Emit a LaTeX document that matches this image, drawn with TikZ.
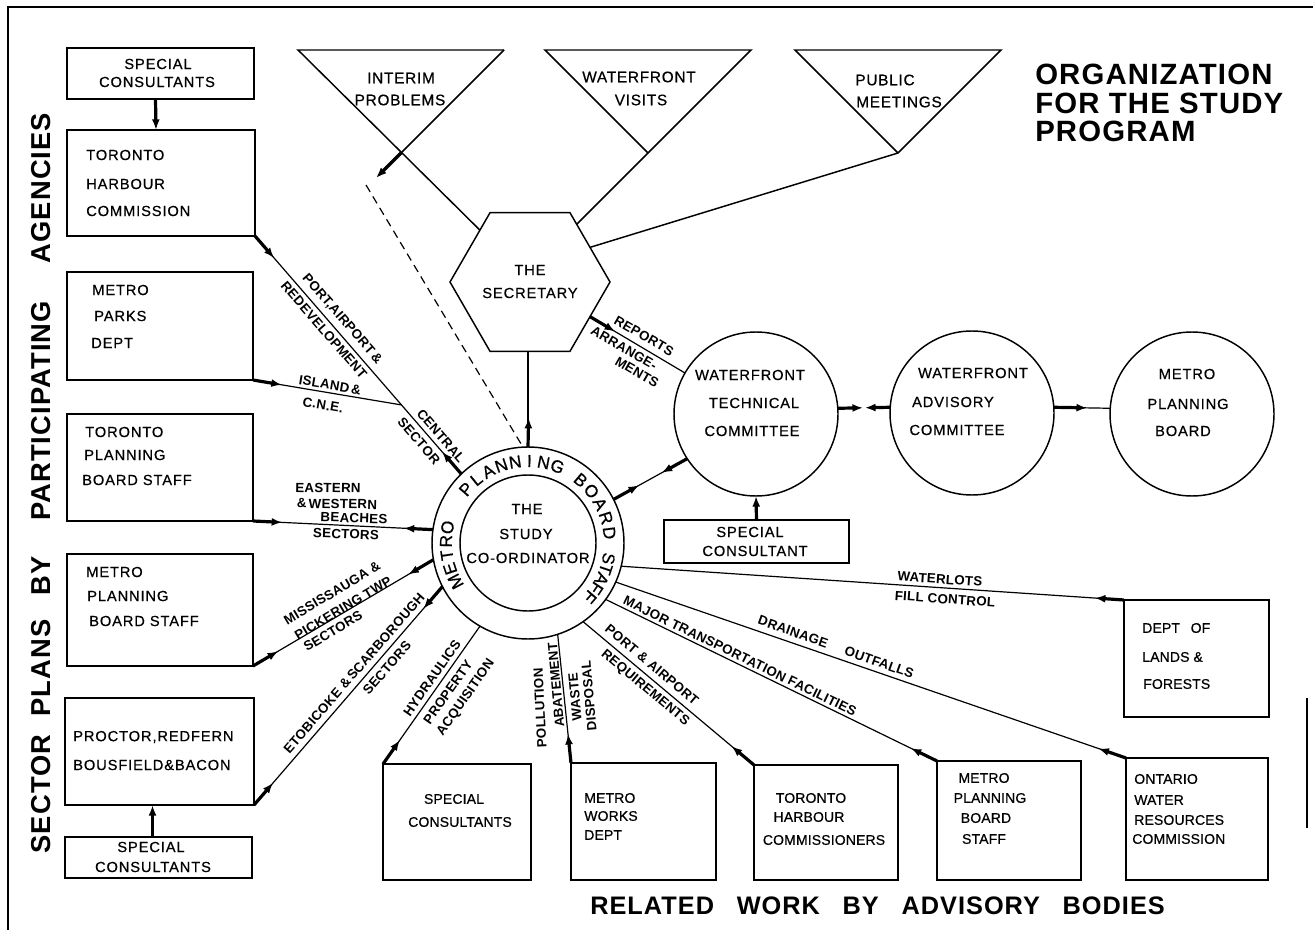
\documentclass[tikz,border=0pt]{standalone}
\usepackage{fontspec}
\setmainfont{Liberation Sans}
\newfontfamily\bxf[LetterSpace=6,FakeBold=0.6]{Liberation Sans}
\newfontfamily\bxt[LetterSpace=5,FakeBold=0.6]{Liberation Sans}
\newfontfamily\bxn[LetterSpace=1,FakeBold=0.6]{Liberation Sans}
\newfontfamily\lbf[LetterSpace=2]{Liberation Sans}
\newfontfamily\hdf[LetterSpace=4]{Liberation Sans}
\usetikzlibrary{arrows.meta,calc,shapes.geometric}
\tikzset{
  box/.style 2 args={draw, line width=1.3pt, inner sep=0pt, outer sep=0pt, anchor=north west,
    minimum width=#1*0.75pt, minimum height=#2*0.75pt},
  circ/.style={draw, circle, line width=1.1pt, inner sep=0pt, outer sep=0pt, minimum size=#1*0.75pt},
  bt/.style={font=\bxf\fontsize{11}{13}\selectfont, inner sep=0pt, anchor=west},
  ct/.style={font=\bxf\fontsize{11}{13}\selectfont, inner sep=0pt},
  tt/.style={font=\bxt\fontsize{11.5}{13}\selectfont, inner sep=0pt},
  nt/.style={font=\bxn\fontsize{10.5}{12}\selectfont, inner sep=0pt},
  ntw/.style={nt, anchor=west},
  rg/.style={font=\bxf\fontsize{13}{15}\selectfont, inner sep=0pt},
  lb/.style={font=\lbf\bfseries\fontsize{10}{12}\selectfont, inner sep=0pt},
  side/.style={font=\hdf\bfseries\fontsize{20.5}{22}\selectfont, inner sep=0pt, rotate=90},
  ttl/.style={font=\hdf\bfseries\fontsize{22}{26}\selectfont, inner sep=0pt, anchor=base west},
  conn/.style={line width=0.9pt},
  stub/.style={line width=2.4pt, -{Latex[length=8pt,width=6pt]}},
  frame/.style={line width=1.5pt},
}
\newcommand\stubto[3][22pt]{\draw[stub] (#2) -- ($(#2)!#1!(#3)$);}
\begin{document}
\begin{tikzpicture}[x=0.75pt,y=-0.75pt]
\useasboundingbox (0,0) rectangle (1313,930);
\draw[frame] (8,930) -- (8,7) -- (1313,7);
\draw[line width=0.8pt] (1307,698) -- (1307,828);

% ---- left column boxes
\node[box={187}{51}] (sc1) at (67,48) {};
\node[box={188}{106}] (thc) at (67,130) {};
\node[box={186}{108}] (mpd) at (67,272) {};
\node[box={186}{107}] (tpb) at (67,414) {};
\node[box={186}{112}] (mpbl) at (67,554) {};
\node[box={189}{107}] (prb) at (65,698) {};
\node[box={187}{41}] (sc2) at (65,837) {};
% ---- other boxes
\node[box={185}{43}] (scm) at (664,520) {};
\node[box={148}{116}] (scb) at (383,764) {};
\node[box={145}{117}] (mwd) at (571,763) {};
\node[box={144}{115}] (thcb) at (754,765) {};
\node[box={144}{119}] (mpbb) at (937,761) {};
\node[box={142}{122}] (owr) at (1126,758) {};
\node[box={145}{117}] (dlf) at (1124,600) {};

% ---- circles
\node[circ=192] (cc) at (528,543) {};
\node[circ=136] (ci) at (528,543) {};
\node[circ=164] (wtc) at (756,414) {};
\node[circ=164] (wac) at (972,413) {};
\node[circ=164] (mpb) at (1192,414) {};

% ---- hexagon
\node[regular polygon, regular polygon sides=6, draw, line width=1.1pt, inner sep=0pt, outer sep=0pt,
      minimum size=120pt] (sec) at (530,282) {};

% ---- triangles
\coordinate (t1l) at (298,50); \coordinate (t1r) at (504,50); \coordinate (t1a) at (401,153);
\coordinate (t2l) at (545,50); \coordinate (t2r) at (751,50); \coordinate (t2a) at (648,153);
\coordinate (t3l) at (795,50); \coordinate (t3r) at (1001,50); \coordinate (t3a) at (898,153);
\coordinate (t1x) at (376,178);
\coordinate (dsh) at (366,185);
\draw[line width=1.1pt] (t1r) -- (t1l) -- (sec.134);
\draw[line width=1.1pt] (t1r) -- (t1a);
\draw[stub] (t1a) -- (t1x);
\draw[conn, dashed, dash pattern=on 6pt off 4pt] (dsh) -- (cc.93);
\draw[line width=1.1pt] (t2a) -- (t2l) -- (t2r) -- (sec.51);
\draw[line width=1.1pt] (t3a) -- (t3l) -- (t3r) -- (t3a) -- (sec.30);

% ---- left connectors
\coordinate (jn) at ($(thc.south east)!0.71!(cc.134)$);
\draw[conn] (thc.south east) -- (cc.134);
\stubto{thc.south east}{cc.134}
\stubto{cc.134}{thc.south east}
\draw[conn] (mpd.south east) -- (jn);
\stubto{mpd.south east}{jn}
\draw[conn] (tpb.south east) -- (cc.172);
\stubto{tpb.south east}{cc.172}
\stubto{cc.172}{tpb.south east}
\draw[conn] (mpbl.south east) -- (cc.190);
\stubto{mpbl.south east}{cc.190}
\stubto{cc.190}{mpbl.south east}
\draw[conn] (prb.south east) -- (cc.207);
\stubto{prb.south east}{cc.207}
\stubto{cc.207}{prb.south east}
\draw[stub] ($(sc1.south)+(-5,0)$) -- ($(thc.north)+(-5,0)$);
\draw[stub] ($(sc2.north)+(-6,0)$) -- ($(prb.south)+(-7,0)$);

% ---- secretary and committees
\draw[conn] (cc.90) -- (cc.90 |- sec.south);
\stubto{cc.90}{sec.south}
\draw[conn] (sec.-30) -- (wtc.150);
\stubto{sec.-30}{wtc.150}
\draw[conn] (cc.27) -- (wtc.213);
\stubto{cc.27}{wtc.213}
\stubto{wtc.213}{cc.27}
\stubto[19pt]{wtc.4}{wac.176}
\stubto[19pt]{wac.176}{wtc.4}
\draw[conn] (wac.4) -- (mpb.176);
\stubto[25pt]{wac.4}{mpb.176}
\draw[stub] (scm.north) -- (wtc.south);

% ---- bottom connectors
\draw[conn] (scb.north west) -- (cc.-120);
\stubto{scb.north west}{cc.-120}
\draw[conn] (mwd.north west) -- (cc.-72);
\stubto{mwd.north west}{cc.-72}
\draw[conn] (thcb.north west) -- (cc.-55);
\stubto{thcb.north west}{cc.-55}
\draw[conn] (mpbb.north west) -- (cc.-36);
\stubto{mpbb.north west}{cc.-36}
\draw[conn] (owr.north west) -- (cc.-24);
\stubto{owr.north west}{cc.-24}
\draw[conn] (dlf.north west) -- (cc.-14);
\stubto{dlf.north west}{cc.-14}

% ---- texts: left boxes
\node[ct] (x1) at (158,64) {SPECIAL};
\node[ct] (x2) at (157,82) {CONSULTANTS};
\node[bt] (x3) at (86,155) {TORONTO};
\node[bt] (x4) at (86,184) {HARBOUR};
\node[bt] (x5) at (86,211) {COMMISSION};
\node[bt] (x6) at (92,290) {METRO};
\node[bt] (x7) at (94,316) {PARKS};
\node[bt] (x8) at (91,343) {DEPT};
\node[bt] (x9) at (85,432) {TORONTO};
\node[bt] (x10) at (84,455) {PLANNING};
\node[bt] (x11) at (82,480) {BOARD STAFF};
\node[bt] (x12) at (86,572) {METRO};
\node[bt] (x13) at (87,596) {PLANNING};
\node[bt] (x14) at (89,621) {BOARD STAFF};
\node[bt] (x15) at (73,737) {PROCTOR,REDFERN};
\node[bt] (x16) at (73,765) {BOUSFIELD\&BACON};
\node[ct] (x17) at (151,847) {SPECIAL};
\node[ct] (x18) at (153,867) {CONSULTANTS};

% ---- triangles, hexagon
\node[tt] (y1) at (401,78) {INTERIM};
\node[tt] (y2) at (400,100) {PROBLEMS};
\node[tt] (y3) at (639,77) {WATERFRONT};
\node[tt] (y4) at (641,100) {VISITS};
\node[tt] (y5) at (885,80) {PUBLIC};
\node[tt] (y6) at (899,102) {MEETINGS};
\node[ct] (y7) at (530,270) {THE};
\node[ct] (y8) at (530,293) {SECRETARY};

% ---- circles text
\node[ct] (z1) at (527,509) {THE};
\node[ct] (z2) at (526,534) {STUDY};
\node[ct] (z3) at (528,558) {CO-ORDINATOR};
\node[ct] (z4) at (750,375) {WATERFRONT};
\node[ct] (z5) at (754,403) {TECHNICAL};
\node[ct] (z6) at (752,431) {COMMITTEE};
\node[ct] (z7) at (973,373) {WATERFRONT};
\node[ct] (z8) at (953,402) {ADVISORY};
\node[ct] (z9) at (957,430) {COMMITTEE};
\node[ct] (z10) at (1187,374) {METRO};
\node[ct] (z11) at (1188,404) {PLANNING};
\node[ct] (z12) at (1183,431) {BOARD};
\node[ct] (z13) at (750,532) {SPECIAL};
\node[ct] (z14) at (755,551) {CONSULTANT};

% ---- ring text
\foreach \ch [count=\i from 0] in {M,E,T,R,O}
  {\pgfmathsetmacro\ang{208-\i*39/4}\path (cc) ++(-\ang:82) node[rg, rotate=\ang-90] (rgm\i) {\ch};}
\foreach \ch [count=\i from 0] in {P,L,A,N,N,I,N,G}
  {\pgfmathsetmacro\ang{139-\i*70/7}\path (cc) ++(-\ang:82) node[rg, rotate=\ang-90] (rgp\i) {\ch};}
\foreach \ch [count=\i from 0] in {B,O,A,R,D}
  {\pgfmathsetmacro\ang{50-\i*43/4}\path (cc) ++(-\ang:82) node[rg, rotate=\ang-90] (rgb\i) {\ch};}
\foreach \ch [count=\i from 0] in {S,T,A,F,F}
  {\pgfmathsetmacro\ang{-11-\i*30/4}\path (cc) ++(-\ang:82) node[rg, rotate=\ang-90] (rgs\i) {\ch};}

% ---- bottom boxes text
\node[nt] (w1) at (454,799) {SPECIAL};
\node[nt] (w2) at (460,822) {CONSULTANTS};
\node[ntw] (w3) at (584,798) {METRO};
\node[ntw] (w4) at (584,816) {WORKS};
\node[ntw] (w5) at (584,835) {DEPT};
\node[nt] (w6) at (811,798) {TORONTO};
\node[nt] (w7) at (809,817) {HARBOUR};
\node[nt] (w8) at (824,840) {COMMISSIONERS};
\node[nt] (w9) at (984,778) {METRO};
\node[nt] (w10) at (990,798) {PLANNING};
\node[nt] (w11) at (986,818) {BOARD};
\node[nt] (w12) at (984,839) {STAFF};
\node[ntw] (w13) at (1134,779) {ONTARIO};
\node[ntw] (w14) at (1134,800) {WATER};
\node[ntw] (w15) at (1134,820) {RESOURCES};
\node[ntw] (w16) at (1132,839) {COMMISSION};
\node[ntw] (w17) at (1142,628) {DEPT\hspace{8pt}OF};
\node[ntw] (w18) at (1142,657) {LANDS \&};
\node[ntw] (w19) at (1143,684) {FORESTS};

% ---- connector labels
\node[lb, rotate=-49] (l1a) at (342,319) {PORT,AIRPORT\,\&};
\node[lb, rotate=-49] (l1b) at (324,330) {REDEVELOPMENT};
\node[lb, rotate=-49] (l1c) at (441,436) {CENTRAL};
\node[lb, rotate=-49] (l1d) at (419,441) {SECTOR};
\node[lb, rotate=-9.5] (l2a) at (330,385) {ISLAND\,\&};
\node[lb, rotate=-9.5] (l2b) at (323,405) {C.N.E.};
\node[lb, rotate=-1] (l3a) at (328,488) {EASTERN};
\node[lb, rotate=-1] (l3b) at (337,504) {\&\,WESTERN};
\node[lb, rotate=-2] (l3c) at (354,518) {BEACHES};
\node[lb, rotate=-2] (l3d) at (346,534) {SECTORS};
\node[lb, rotate=31] (l4a) at (332,593) {MISSISSAUGA \&};
\node[lb, rotate=31] (l4b) at (343,608) {PICKERING TWP};
\node[lb, rotate=31] (l4c) at (333,631) {SECTORS};
\node[lb, rotate=49] (l5a) at (354,673) {ETOBICOKE \&\,SCARBOROUGH};
\node[lb, rotate=49] (l5b) at (387,668) {SECTORS};
\node[lb, rotate=55] (b1a) at (432,678) {HYDRAULICS};
\node[lb, rotate=55] (b1b) at (448,692) {PROPERTY};
\node[lb, rotate=55] (b1c) at (466,698) {ACQUISITION};
\node[lb, rotate=93] (b2a) at (540,708) {POLLUTION};
\node[lb, rotate=95] (b2b) at (556,685) {ABATEMENT};
\node[lb, rotate=95] (b2c) at (575,697) {WASTE};
\node[lb, rotate=95] (b2d) at (589,696) {DISPOSAL};
\node[lb, rotate=-40] (b3a) at (652,665) {PORT \& AIRPORT};
\node[lb, rotate=-40] (b3b) at (645,688) {REQUIREMENTS};
\node[lb, rotate=-26] (b4) at (740,656) {MAJOR TRANSPORTATION FACILITIES};
\node[lb, rotate=-19.5] (b5) at (836,647) {DRAINAGE\hspace{14pt}OUTFALLS};
\node[lb, rotate=-4] (b6a) at (940,579) {WATERLOTS};
\node[lb, rotate=-4] (b6b) at (945,599) {FILL CONTROL};
\node[lb, rotate=-30] (r1a) at (644,336) {REPORTS};
\node[lb, rotate=-30] (r1b) at (624,348) {ARRANGE-};
\node[lb, rotate=-30] (r1c) at (637,372) {MENTS};

% ---- headings
\node[side] (s1) at (41,794) {SECTOR};
\node[side] (s2) at (41,668) {PLANS};
\node[side] (s3) at (41,576) {BY};
\node[side] (s4) at (41,411) {PARTICIPATING};
\node[side] (s5) at (41,188) {AGENCIES};
\node[ttl] (h1) at (1035,85) {ORGANIZATION};
\node[ttl] (h2) at (1035,114) {FOR THE STUDY};
\node[ttl] (h3) at (1035,142) {PROGRAM};
\node[font=\hdf\bfseries\fontsize{19}{22}\selectfont, inner sep=0pt, anchor=west] (h4) at (590,906)
  {RELATED\hspace{17pt}WORK\hspace{17pt}BY\hspace{17pt}ADVISORY\hspace{17pt}BODIES};
\end{tikzpicture}
\end{document}
